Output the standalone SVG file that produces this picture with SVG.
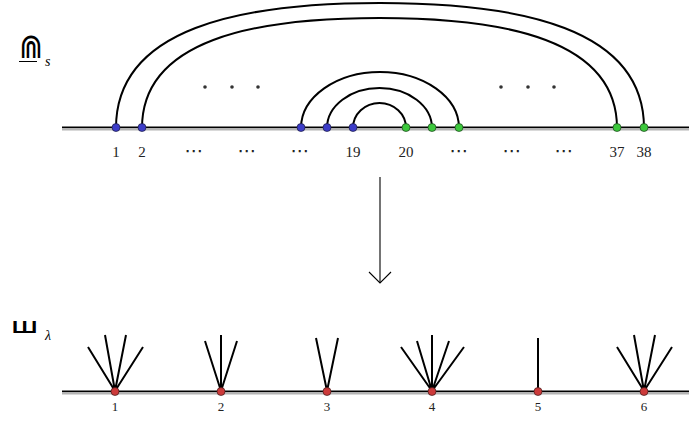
<svg xmlns="http://www.w3.org/2000/svg" width="689" height="425" viewBox="0 0 689 425">
<style>
.base{stroke:#000;stroke-width:1.6;fill:none}
.shadow{stroke:#b4b4b4;stroke-width:2.4;fill:none}
.arc{stroke:#000;stroke-width:2;fill:none}
.spoke{stroke:#000;stroke-width:2;fill:none}
.blue{fill:#3c3cc8;stroke:#1a1a40;stroke-width:0.7}
.green{fill:#3cc83c;stroke:#1a401a;stroke-width:0.7}
.red{fill:#cc3a3a;stroke:#401a1a;stroke-width:0.7}
.lbl{font-family:"Liberation Serif","DejaVu Serif",serif;font-size:15px;fill:#222;text-anchor:middle}
.lbl2{font-family:"Liberation Serif","DejaVu Serif",serif;font-size:13px;fill:#222;text-anchor:middle}
.dots{font-family:"DejaVu Sans",sans-serif;font-size:19px;fill:#222;text-anchor:middle}
.bigdot{fill:#333}
.sym{font-family:"DejaVu Sans","DejaVu Serif",sans-serif;font-weight:200;fill:#000}
.sub{font-family:"Liberation Serif","DejaVu Serif",serif;font-style:italic;fill:#000}
</style>
<g id="label-top">
<text class="sym" transform="translate(19,58) scale(1.1,1.3)" font-size="26">⋒</text>
<line x1="19" y1="61.5" x2="37" y2="61.5" stroke="#000" stroke-width="1"/>
<text class="sub" x="45" y="66" font-size="14">s</text>
</g>
<g id="label-bottom">
<text class="sym" transform="translate(12,333) scale(1.35,1.15)" font-size="36">⧢</text>
<text class="sub" x="45" y="340" font-size="14">λ</text>
</g>
<g id="top-line">
<line class="shadow" x1="62" y1="129.3" x2="689" y2="129.3"/>
<line class="base" x1="62" y1="127.3" x2="689" y2="127.3"/>
</g>
<g id="connectors">
<path class="arc" d="M116,128 C116,28 240,3 380,3 C520,3 644,28 644,128"/>
<path class="arc" d="M142,128 C142,40 253,18 379.5,18 C506,18 617,40 617,128"/>
<path class="arc" d="M301,128 A79,56 0 0 1 459,128"/>
<path class="arc" d="M327,128 A52.5,40 0 0 1 432,128"/>
<path class="arc" d="M353,128 A26.5,25 0 0 1 406,128"/>
<line x1="380" y1="177" x2="380" y2="283" stroke="#000" stroke-width="1.1"/>
<path d="M369,272 L380,283 L391,272" stroke="#000" stroke-width="1.1" fill="none"/>
</g>
<g id="top-dots">
<circle class="bigdot" cx="205" cy="87" r="1.8"/>
<circle class="bigdot" cx="232" cy="87" r="1.8"/>
<circle class="bigdot" cx="258" cy="87" r="1.8"/>
<circle class="bigdot" cx="501" cy="87" r="1.8"/>
<circle class="bigdot" cx="528" cy="87" r="1.8"/>
<circle class="bigdot" cx="554" cy="87" r="1.8"/>
</g>
<g id="top-nodes">
<g id="n1"><circle class="blue" cx="116" cy="127.5" r="4"/><text class="lbl" x="116" y="157">1</text></g>
<g id="n2"><circle class="blue" cx="142" cy="127.5" r="4"/><text class="lbl" x="142" y="157">2</text></g>
<g id="n3"><circle class="blue" cx="301" cy="127.5" r="4"/></g>
<g id="n4"><circle class="blue" cx="327" cy="127.5" r="4"/></g>
<g id="n19"><circle class="blue" cx="353" cy="127.5" r="4"/><text class="lbl" x="353" y="157">19</text></g>
<g id="n20"><circle class="green" cx="406" cy="127.5" r="4"/><text class="lbl" x="406" y="157">20</text></g>
<g id="n21"><circle class="green" cx="432" cy="127.5" r="4"/></g>
<g id="n22"><circle class="green" cx="459" cy="127.5" r="4"/></g>
<g id="n37"><circle class="green" cx="617" cy="127.5" r="4"/><text class="lbl" x="617" y="157">37</text></g>
<g id="n38"><circle class="green" cx="644" cy="127.5" r="4"/><text class="lbl" x="644" y="157">38</text></g>
<text class="dots" x="194" y="157">⋯</text>
<text class="dots" x="247" y="157">⋯</text>
<text class="dots" x="300" y="157">⋯</text>
<text class="dots" x="459" y="157">⋯</text>
<text class="dots" x="512" y="157">⋯</text>
<text class="dots" x="564" y="157">⋯</text>
</g>
<g id="bottom-line">
<line class="shadow" x1="62" y1="393.3" x2="689" y2="393.3"/>
<line class="base" x1="62" y1="391.3" x2="689" y2="391.3"/>
</g>
<g id="b1">
<path class="spoke" d="M115,391 l-27,-44 M115,391 l-10,-56 M115,391 l11,-56 M115,391 l28,-44"/>
<circle class="red" cx="115" cy="391.5" r="4"/><text class="lbl2" x="115" y="411">1</text>
</g>
<g id="b2">
<path class="spoke" d="M221,391 l-16,-50 M221,391 l0,-56 M221,391 l16,-50"/>
<circle class="red" cx="221" cy="391.5" r="4"/><text class="lbl2" x="221" y="411">2</text>
</g>
<g id="b3">
<path class="spoke" d="M327,391 l-11,-53 M327,391 l11,-53"/>
<circle class="red" cx="327" cy="391.5" r="4"/><text class="lbl2" x="327" y="411">3</text>
</g>
<g id="b4">
<path class="spoke" d="M432,391 l-31,-44 M432,391 l-15,-50 M432,391 l0,-56 M432,391 l17,-50 M432,391 l32,-44"/>
<circle class="red" cx="432" cy="391.5" r="4"/><text class="lbl2" x="432" y="411">4</text>
</g>
<g id="b5">
<path class="spoke" d="M538,391 l0,-53"/>
<circle class="red" cx="538" cy="391.5" r="4"/><text class="lbl2" x="538" y="411">5</text>
</g>
<g id="b6">
<path class="spoke" d="M644,391 l-27,-44 M644,391 l-10,-56 M644,391 l11,-56 M644,391 l28,-44"/>
<circle class="red" cx="644" cy="391.5" r="4"/><text class="lbl2" x="644" y="411">6</text>
</g>
</svg>
